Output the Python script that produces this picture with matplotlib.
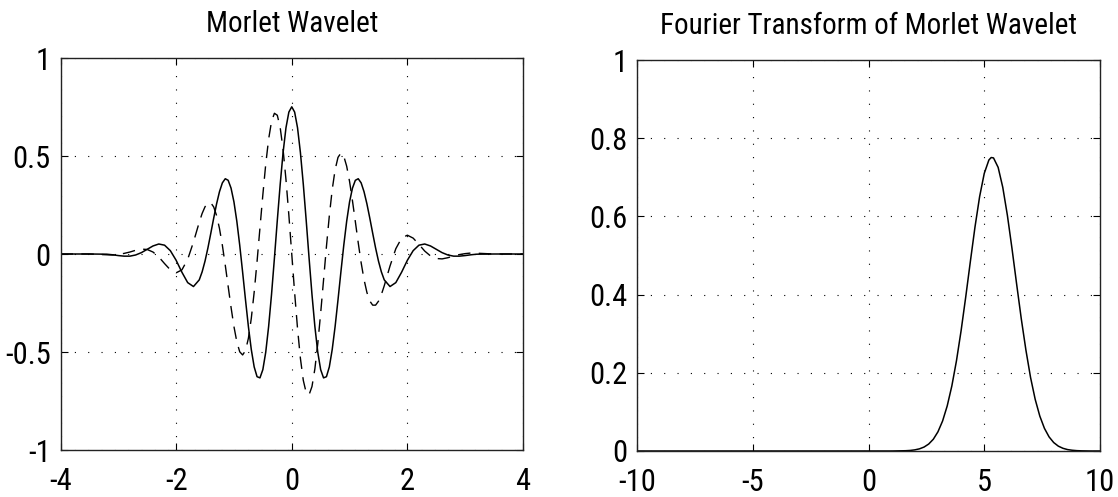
import matplotlib
matplotlib.use('Agg')
import matplotlib.pyplot as plt

# time axis of the wavelet plot
t = [-4.0, -3.5, -3.2, -3.1, -3.0, -2.9, -2.8, -2.7, -2.6, -2.5, -2.4, -2.3, -2.2, -2.1,
     -2.0, -1.9, -1.8, -1.7, -1.6, -1.55, -1.5, -1.45, -1.4, -1.35, -1.3, -1.25, -1.2,
     -1.15, -1.1, -1.05, -1.0, -0.95, -0.9, -0.85, -0.8, -0.75, -0.7, -0.65, -0.6, -0.55,
     -0.5, -0.45, -0.4, -0.35, -0.3, -0.25, -0.2, -0.15, -0.1, -0.05,
     0.0,
     0.05, 0.1, 0.15, 0.2, 0.25, 0.3, 0.35, 0.4, 0.45, 0.5, 0.55, 0.6, 0.65, 0.7, 0.75,
     0.8, 0.85, 0.9, 0.95, 1.0, 1.05, 1.1, 1.15, 1.2, 1.25, 1.3, 1.35, 1.4, 1.45, 1.5,
     1.55, 1.6, 1.7, 1.8, 1.9, 2.0, 2.1, 2.2, 2.3, 2.4, 2.5, 2.6, 2.7, 2.8, 2.9, 3.0,
     3.1, 3.2, 3.5, 4.0]

# real part (solid)
wave_real = [0, 0, -0.001, -0.004, -0.008, -0.011, -0.011, -0.005, 0.007, 0.024, 0.041,
             0.051, 0.045, 0.017, -0.032, -0.093, -0.146, -0.166, -0.132, -0.091, -0.036,
             0.031, 0.106, 0.183, 0.256, 0.318, 0.363, 0.384, 0.376, 0.336, 0.266, 0.167,
             0.045, -0.092, -0.234, -0.370, -0.487, -0.576, -0.626, -0.632, -0.590, -0.501,
             -0.370, -0.207, -0.022, 0.171, 0.355, 0.517, 0.644, 0.724,
             0.751,
             0.724, 0.644, 0.517, 0.355, 0.171, -0.022, -0.207, -0.370, -0.501, -0.590,
             -0.632, -0.626, -0.576, -0.487, -0.370, -0.234, -0.092, 0.045, 0.167, 0.266,
             0.336, 0.376, 0.384, 0.363, 0.318, 0.256, 0.183, 0.106, 0.031, -0.036, -0.091,
             -0.132, -0.166, -0.146, -0.093, -0.032, 0.017, 0.045, 0.051, 0.041, 0.024,
             0.007, -0.005, -0.011, -0.011, -0.008, -0.004, -0.001, 0, 0]

# imaginary part (dashed)
wave_imag = [0, 0, -0.004, -0.005, -0.002, 0.003, 0.010, 0.019, 0.025, 0.023, 0.010,
             -0.015, -0.049, -0.081, -0.096, -0.081, -0.027, 0.061, 0.162, 0.207, 0.241,
             0.261, 0.261, 0.240, 0.196, 0.130, 0.044, -0.057, -0.165, -0.272, -0.370,
             -0.448, -0.499, -0.515, -0.493, -0.430, -0.329, -0.195, -0.038, 0.133, 0.302,
             0.458, 0.586, 0.676, 0.718, 0.708, 0.645, 0.533, 0.380, 0.198,
             0.0,
             -0.198, -0.380, -0.533, -0.645, -0.708, -0.718, -0.676, -0.586, -0.458, -0.302,
             -0.133, 0.038, 0.195, 0.329, 0.430, 0.493, 0.515, 0.499, 0.448, 0.370, 0.272,
             0.165, 0.057, -0.044, -0.130, -0.196, -0.240, -0.261, -0.261, -0.241, -0.207,
             -0.162, -0.061, 0.027, 0.081, 0.096, 0.081, 0.049, 0.015, -0.010, -0.023,
             -0.025, -0.019, -0.010, -0.003, 0.002, 0.005, 0.004, 0, 0]

# fourier transform
freq = [-10.0, 1.0, 1.6, 1.8, 2.0, 2.2, 2.4, 2.6, 2.8, 3.0, 3.2, 3.4, 3.6, 3.8, 4.0, 4.2,
        4.4, 4.6, 4.8, 5.0, 5.2, 5.3, 5.4, 5.6, 5.8, 6.0, 6.2, 6.4, 6.6, 6.8, 7.0, 7.2,
        7.4, 7.6, 7.8, 8.0, 8.2, 8.4, 8.6, 8.8, 9.0, 9.2, 9.6, 10.0]
spectrum = [0, 0, 0.0007, 0.0014, 0.0029, 0.0055, 0.0101, 0.0178, 0.0301, 0.0491, 0.0767,
            0.1153, 0.1664, 0.2308, 0.3077, 0.3940, 0.4847, 0.5729, 0.6506, 0.7099, 0.7442,
            0.7506, 0.7496, 0.7254, 0.6744, 0.6025, 0.5171, 0.4264, 0.3379, 0.2580, 0.1881,
            0.1322, 0.0893, 0.0579, 0.0361, 0.0216, 0.0124, 0.0069, 0.0036, 0.0019, 0.0009,
            0.0004, 0, 0]

left_xticks = [-4, -2, 0, 2, 4]
left_yticks = [-1, -0.5, 0, 0.5, 1]
left_ylabels = ['-1', '-0.5', '0', '0.5', '1']
right_xticks = [-10, -5, 0, 5, 10]
right_yticks = [0, 0.2, 0.4, 0.6, 0.8, 1]
right_ylabels = ['0', '0.2', '0.4', '0.6', '0.8', '1']

plt.rcParams['font.family'] = ['Roboto Condensed', 'DejaVu Sans']
plt.rcParams['axes.unicode_minus'] = False

W, H = 1118, 497
fig = plt.figure(figsize=(W / 100, H / 100), dpi=100)


def make_axes(l, r, top, bottom):
    return fig.add_axes([l / W, 1 - bottom / H, (r - l) / W, (bottom - top) / H])


def style(ax, xticks, yticks, ylabels, title):
    ax.set_xticks(xticks)
    ax.set_xticklabels([str(v) for v in xticks])
    ax.set_yticks(yticks)
    ax.set_yticklabels(ylabels)
    ax.set_xlim(xticks[0], xticks[-1])
    ax.set_ylim(yticks[0], yticks[-1])
    ax.grid(True, color='k', lw=0.8, linestyle=(0, (1, 11)))
    ax.tick_params(direction='in', length=5, width=0.8, top=True, right=True,
                   labelsize=22, colors='k')
    ax.tick_params(axis='x', pad=12.5)
    ax.tick_params(axis='y', pad=7)
    for s in ax.spines.values():
        s.set_linewidth(1.0)
        s.set_color('#222222')
    ax.set_title(title, fontsize=21, pad=19)


axL = make_axes(60.5, 523, 58, 450)
axR = make_axes(637, 1100, 60, 451)

axL.plot(t, wave_real, color='k', lw=1.1)
axL.plot(t, wave_imag, color='k', lw=1.0, linestyle=(0, (9, 6)))
style(axL, left_xticks, left_yticks, left_ylabels, 'Morlet Wavelet')

axR.plot(freq, spectrum, color='k', lw=1.1)
style(axR, right_xticks, right_yticks, right_ylabels, 'Fourier Transform of Morlet Wavelet')

fig.savefig('out.png', dpi=100)
